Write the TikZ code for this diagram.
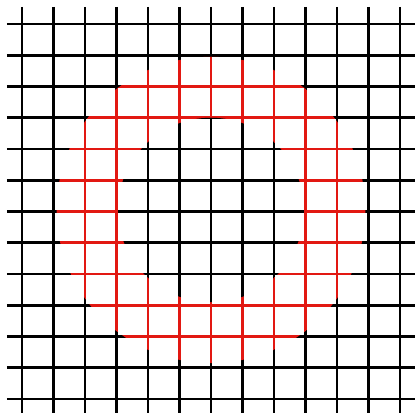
\documentclass[tikz,border=0pt]{standalone}
\definecolor{ringred}{RGB}{226,24,18}
\tikzset{
  gridline/.style={line width=2.7bp,black},
  ringline/.style={line width=2.7bp,ringred}
}
\begin{document}
\begin{tikzpicture}[x=31.5bp,y=-31.25bp]
  \useasboundingbox (-0.698,-0.768) rectangle (12.476,12.448);
  % black grid
  \foreach \i in {0,...,12} {
    \draw[gridline] (\i,-0.544) -- (\i,12.448);
    \draw[gridline] (-0.476,\i) -- (12.476,\i);
  }
  % red ring: grid lines inside the outer circle
  \begin{scope}
    \clip (6,5.95) circle (4.9);
    \foreach \i in {0,...,12} {
      \draw[ringline] (\i,-0.544) -- (\i,12.448);
      \draw[ringline] (-0.476,\i) -- (12.476,\i);
    }
  \end{scope}
  % black again inside the inner circle
  \begin{scope}
    \clip (6,5.95) circle (2.95);
    \foreach \i in {0,...,12} {
      \draw[gridline] (\i,-0.544) -- (\i,12.448);
      \draw[gridline] (-0.476,\i) -- (12.476,\i);
    }
  \end{scope}
\end{tikzpicture}
\end{document}
